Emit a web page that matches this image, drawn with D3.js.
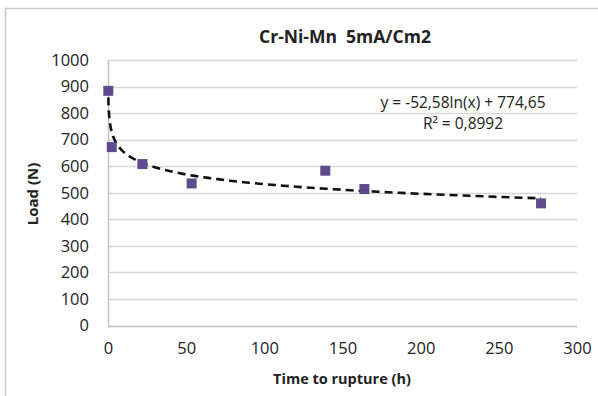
<!DOCTYPE html>
<html>
	<head>
		<title>Cr-Ni-Mn 5mA/Cm2</title>

		<!--libs-->
		<script src="https://d3js.org/d3.v7.min.js"></script>

		<!--css-->
		<style>
			body {
				margin: 0;
				background: #fff;
			}
			text {
				font-family: "Open Sans", "Liberation Sans", sans-serif;
				fill: #222;
				white-space: pre;
			}
		</style>
	</head>
	<body>
		<div class="scatterchart" data-width="598" data-height="396"></div>

		<script>
			// data
			var hours = [0.2, 2.4, 22, 53.5, 139, 164, 277];
			var loads = [884, 672, 608, 535, 583, 514, 460];
			var yTicks = [0, 100, 200, 300, 400, 500, 600, 700, 800, 900, 1000];
			var xTicks = [0, 50, 100, 150, 200, 250, 300];

			// log trendline, coefficients as printed on the chart
			var trendA = -52.58, trendB = 774.65;
			var trendLabel = "y = -52,58ln(x) + 774,65";
			var r2Label = "R\u00b2 = 0,8992";

			var el = document.querySelector('.scatterchart');
			var width = +el.dataset.width,
				height = +el.dataset.height;

			var plot = { left: 108, right: 577, top: 60, bottom: 325.5 };

			var x = d3.scaleLinear().domain([0, 300]).range([plot.left, plot.right]);
			var y = d3.scaleLinear().domain([0, 1000]).range([plot.bottom, plot.top]);

			var svg = d3.select(el)
				.append("svg")
				.attr("width", width)
				.attr("height", height);

			// chart frame (only left + top visible in the picture)
			svg.append("rect")
				.attr("x", 5.5)
				.attr("y", 8.5)
				.attr("width", width + 20)
				.attr("height", height + 20)
				.attr("fill", "none")
				.attr("stroke", "#c8c8c8")
				.attr("stroke-width", 1.5);

			// horizontal gridlines
			svg.append("g").attr("class", "grid")
				.selectAll("line")
				.data(yTicks)
				.enter().append("line")
				.attr("x1", plot.left)
				.attr("x2", plot.right)
				.attr("y1", function(d) { return Math.round(y(d)) + 0.5; })
				.attr("y2", function(d) { return Math.round(y(d)) + 0.5; })
				.attr("stroke", function(d) { return d === 0 ? "#bdbdbd" : "#d6d6d6"; })
				.attr("stroke-width", 1.3);

			// y axis line
			svg.append("line")
				.attr("x1", plot.left + 0.5)
				.attr("x2", plot.left + 0.5)
				.attr("y1", plot.top)
				.attr("y2", plot.bottom)
				.attr("stroke", "#bdbdbd")
				.attr("stroke-width", 1.3);

			// y axis labels
			var yAxis = d3.axisLeft(y).tickValues(yTicks).tickFormat(d3.format("d")).tickSize(0).tickPadding(19);
			var gy = svg.append("g")
				.attr("transform", "translate(" + plot.left + ",0)")
				.call(yAxis);
			gy.select(".domain").remove();
			gy.selectAll("text")
				.style("font-family", "'Open Sans', sans-serif")
				.style("font-size", "16.5px")
				.attr("fill", "#222");

			// x axis labels
			var xAxis = d3.axisBottom(x).tickValues(xTicks).tickFormat(d3.format("d")).tickSize(0).tickPadding(17);
			var gx = svg.append("g")
				.attr("transform", "translate(0," + plot.bottom + ")")
				.call(xAxis);
			gx.select(".domain").remove();
			gx.selectAll("text")
				.style("font-family", "'Open Sans', sans-serif")
				.style("font-size", "16.5px")
				.attr("fill", "#222");

			// trendline
			var xmin = d3.min(hours), xmax = d3.max(hours);
			var trendPts = [];
			for (var i = 0; i <= 200; i++) {
				// log-spaced so the steep start is smooth
				var t = Math.exp(Math.log(xmin) + (Math.log(xmax) - Math.log(xmin)) * i / 200);
				trendPts.push([t, trendA * Math.log(t) + trendB]);
			}

			var line = d3.line()
				.x(function(d) { return x(d[0]); })
				.y(function(d) { return y(d[1]); });

			svg.append("path")
				.datum(trendPts)
				.attr("d", line)
				.attr("fill", "none")
				.attr("stroke", "#111")
				.attr("stroke-width", 2.6)
				.attr("stroke-dasharray", "8,5");

			// markers
			var msize = 10;
			svg.append("g").attr("class", "points")
				.selectAll("rect")
				.data(hours)
				.enter().append("rect")
				.attr("x", function(d) { return x(d) - msize / 2; })
				.attr("y", function(d, i) { return y(loads[i]) - msize / 2; })
				.attr("width", msize)
				.attr("height", msize)
				.attr("fill", "#5e4b8c");

			// equation text
			svg.append("text")
				.attr("x", 463)
				.attr("y", 108)
				.attr("text-anchor", "middle")
				.style("font-size", "15.5px")
				.text(trendLabel);

			svg.append("text")
				.attr("x", 463)
				.attr("y", 129)
				.attr("text-anchor", "middle")
				.style("font-size", "15.5px")
				.text(r2Label);

			// titles
			svg.append("text")
				.attr("x", 345)
				.attr("y", 43)
				.attr("text-anchor", "middle")
				.style("font-size", "17.5px")
				.style("font-weight", "bold")
				.text("Cr-Ni-Mn  5mA/Cm2");

			svg.append("text")
				.attr("x", 342)
				.attr("y", 384)
				.attr("text-anchor", "middle")
				.style("font-size", "14.5px")
				.style("font-weight", "bold")
				.text("Time to rupture (h)");

			svg.append("text")
				.attr("transform", "translate(38,194) rotate(-90)")
				.attr("text-anchor", "middle")
				.style("font-size", "15px")
				.style("font-weight", "bold")
				.text("Load (N)");
		</script>
	</body>
</html>
